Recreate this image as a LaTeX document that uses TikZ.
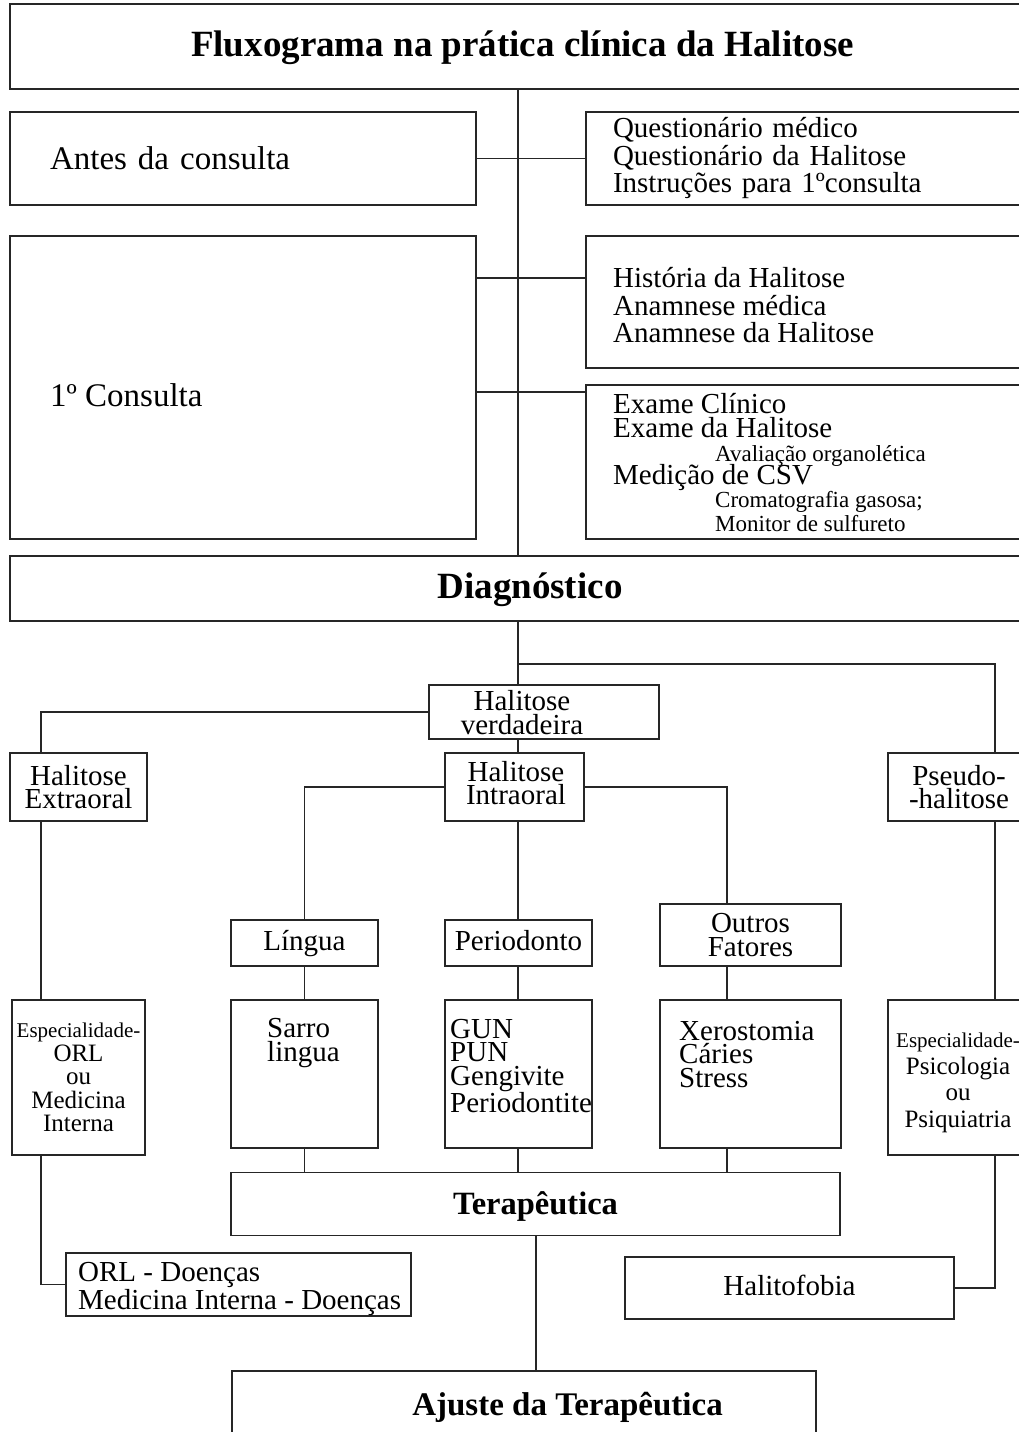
\documentclass[tikz,border=0pt]{standalone}
\usepackage{fontspec}
\setmainfont{Liberation Serif}
\begin{document}
\begin{tikzpicture}[x=1pt,y=-1pt,
  box/.style={draw=black!85, line width=1.5pt, rectangle, inner sep=0pt, fill=white},
  ln/.style={draw=black!85, line width=1.5pt},
  txt/.style={inner sep=0pt},
  one/.style={text height=20pt, text depth=6pt},
  oneB/.style={text height=26pt, text depth=6pt},
  fN/.style={font=\fontsize{29}{27.5}\selectfont},
  fT/.style={font=\fontsize{29}{23.5}\selectfont},
  fS/.style={font=\fontsize{23}{24}\selectfont},
  fH/.style={font=\fontsize{37}{40}\selectfont\bfseries},
  fB/.style={font=\fontsize{32.5}{36}\selectfont\bfseries},
  fL/.style={font=\fontsize{33}{36}\selectfont}]
\useasboundingbox (0,0) rectangle (1019,1432);
\fill[white] (0,0) rectangle (1019,1432);

% helper coordinates for connector columns/rows
\coordinate (sp) at (518,0);
\coordinate (xL) at (41,0);
\coordinate (xR) at (995,0);
\coordinate (xO) at (727,0);
\coordinate (xA) at (536,0);
\coordinate (yA) at (0,278);
\coordinate (yB) at (0,392);
\coordinate (br) at (518,664);

% boxes
\node[box, minimum width=1025pt, minimum height=85pt, fH, oneB] (title) at (522.5,46.5) {Fluxograma na prática clínica da Halitose};
\node[box, minimum width=466pt, minimum height=93pt, fL, align=left, text width=386pt, inner xsep=40pt] (antes) at (243,158.5) {Antes da consulta};
\node[box, minimum width=450pt, minimum height=93pt, fN, align=left, text width=396pt, inner xsep=27pt] (q1) at (811,158.5) {Questionário médico\\Questionário da Halitose\\Instruções para 1ºconsulta};
\node[box, minimum width=466pt, minimum height=303pt] (cons) at (243,387.5) {};
\node[txt, fL, anchor=west] (const) at (50,395) {1º Consulta};
\node[box, minimum width=450pt, minimum height=132pt] (q2) at (811,302) {};
\node[txt, fN, align=left, anchor=west] (q2t) at (613,305.5) {História da Halitose\\Anamnese médica\\Anamnese da Halitose};
\node[box, minimum width=450pt, minimum height=154pt] (q3) at (811,462) {};
\node[txt, fN, anchor=base west] (q3a) at (613,413) {Exame Clínico};
\node[txt, fN, anchor=base west] (q3b) at (613,437) {Exame da Halitose};
\node[txt, fS, anchor=base west] (q3c) at (715,461) {Avaliação organolética};
\node[txt, fN, anchor=base west] (q3d) at (613,484) {Medição de CSV};
\node[txt, fS, anchor=base west] (q3e) at (715,507) {Cromatografia gasosa;};
\node[txt, fS, anchor=base west] (q3f) at (715,531) {Monitor de sulfureto};

\node[box, minimum width=1040pt, minimum height=65pt, fH, oneB] (diag) at (530,588.5) {Diagnóstico};

\node[box, minimum width=230pt, minimum height=54pt] (hv) at (544,712) {};
\node[txt, fT, align=center] (hvt) at (522,712.5) {Halitose\\verdadeira};
\node[box, minimum width=137pt, minimum height=68pt, fT, align=center] (hext) at (78.5,787) {Halitose\\Extraoral};
\node[box, minimum width=139pt, minimum height=68pt] (hint) at (514.5,787) {};
\node[txt, fT, align=center] (hintt) at (516,783) {Halitose\\Intraoral};
\node[box, minimum width=142pt, minimum height=68pt, fT, align=center] (pseudo) at (959,787) {Pseudo-\\-halitose};

\node[box, minimum width=147pt, minimum height=46pt, fT, one] (lingua) at (304.5,943) {Língua};
\node[box, minimum width=147pt, minimum height=46pt, fT, one] (perio) at (518.5,943) {Periodonto};
\node[box, minimum width=181pt, minimum height=62pt, fT, align=center] (outros) at (750.5,935) {Outros\\Fatores};

\node[box, minimum width=147pt, minimum height=148pt] (sarro) at (304.5,1074) {};
\node[txt, fT, align=left, anchor=west] (sarrot) at (267,1043) {Sarro\\lingua};
\node[box, minimum width=147pt, minimum height=148pt] (gun) at (518.5,1074) {};
\node[txt, fT, align=left, anchor=west] (gunt) at (450,1066) {GUN\\PUN\\Gengivite\\Periodontite};
\node[box, minimum width=181pt, minimum height=148pt] (xero) at (750.5,1074) {};
\node[txt, fT, align=left, anchor=west] (xerot) at (679,1054.5) {Xerostomia\\Cáries\\Stress};

\node[box, minimum width=133pt, minimum height=155pt, font=\fontsize{25}{23.5}\selectfont, align=center] (espo) at (78.5,1077.5) {{\fontsize{21}{23.5}\selectfont Especialidade-}\\ORL\\ou\\Medicina\\Interna};
\node[box, minimum width=142pt, minimum height=155pt] (esppsi) at (959,1077.5) {};
\node[txt, font=\fontsize{25}{26.7}\selectfont, align=center] (esppsit) at (958,1083) {{\fontsize{21}{26.7}\selectfont Especialidade-}\\Psicologia\\ou\\Psiquiatria};

\node[box, minimum width=609pt, minimum height=63pt, fB, oneB] (terap) at (535.5,1204) {Terapêutica};
\node[box, minimum width=345pt, minimum height=63pt] (orld) at (238.5,1284.5) {};
\node[txt, font=\fontsize{29}{28}\selectfont, align=left, anchor=west] (orldt) at (78,1289) {ORL - Doenças\\Medicina Interna - Doenças};
\node[box, minimum width=329pt, minimum height=62pt, fN, one] (fobia) at (789.5,1288) {Halitofobia};
\node[box, minimum width=584pt, minimum height=70pt] (ajuste) at (524,1406) {};
\node[txt, font=\fontsize{33}{36}\selectfont\bfseries, oneB] (ajustet) at (567.5,1405) {Ajuste da Terapêutica};

% connectors
\draw[ln] (title.south -| sp) -- (diag.north -| sp);
\draw[ln] (antes.east) -- (q1.west);
\draw[ln] (cons.east |- yA) -- (q2.west |- yA);
\draw[ln] (cons.east |- yB) -- (q3.west |- yB);
\draw[ln] (diag.south -| sp) -- (hv.north -| sp);
\draw[ln] (br) -| (pseudo.north -| xR);
\draw[ln] (hv.west) -| (hext.north -| xL);
\draw[ln] (hv.south -| sp) -- (hint.north -| sp);
\draw[ln] (hint.west) -| (lingua.north);
\draw[ln] (hint.east) -| (outros.north -| xO);
\draw[ln] (hint.south -| sp) -- (perio.north -| sp);
\draw[ln] (lingua.south) -- (sarro.north);
\draw[ln] (perio.south -| sp) -- (gun.north -| sp);
\draw[ln] (outros.south -| xO) -- (xero.north -| xO);
\draw[ln] (sarro.south) -- (sarro.south |- terap.north);
\draw[ln] (gun.south -| sp) -- (terap.north -| sp);
\draw[ln] (xero.south -| xO) -- (terap.north -| xO);
\draw[ln] (hext.south -| xL) -- (espo.north -| xL);
\draw[ln] (espo.south -| xL) |- (orld.west);
\draw[ln] (pseudo.south -| xR) -- (esppsi.north -| xR);
\draw[ln] (esppsi.south -| xR) |- (fobia.east);
\draw[ln] (terap.south -| xA) -- (ajuste.north -| xA);
\end{tikzpicture}
\end{document}
